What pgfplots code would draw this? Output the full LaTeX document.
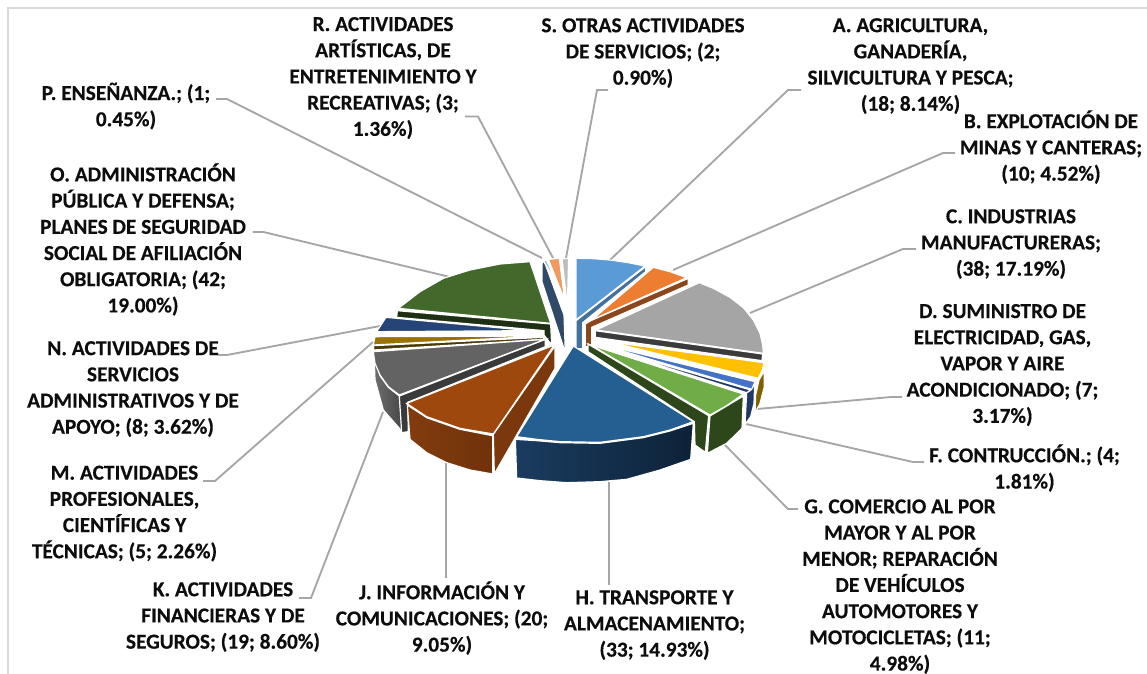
\documentclass[border=0pt]{standalone}
\usepackage{pgfplots}
\pgfplotsset{compat=1.18}
\usepackage{fontspec}
\setmainfont{Carlito}[BoldFeatures={FakeBold=0.35}]
\definecolor{lead}{HTML}{A6A6A6}
\pgfplotsset{
  pie/.style={x filter/.expression={360+x/3}, y filter/.expression={240+y/3}, draw=white, line width=0.9pt, forget plot, no markers},
  leader/.style={draw=lead, line width=1.4pt, forget plot, no markers}
}
\newcommand{\lab}[3]{\node[align=center,font=\fontsize{16}{19.65}\selectfont\bfseries,text=black!95,inner sep=0pt,yshift=-0.8pt] at (axis cs:#1,#2) {#3};}
\begin{document}
\begin{tikzpicture}
\useasboundingbox (0,0) rectangle (860.25pt,505.5pt);
\begin{axis}[at={(0,0)},anchor=south west,scale only axis,width=860.25pt,height=505.5pt,
  xmin=0,xmax=1147,ymin=0,ymax=674,y dir=reverse,hide axis,clip=false]
% frame
\addplot[draw=black!15,line width=1.5pt,forget plot,no markers] coordinates {(7.5,674) (7.5,8) (1147,8)};
% leaders
\addplot[leader] coordinates {(216,99) (227,99) (542,258)};
\addplot[leader] coordinates {(465,116.5) (478,116.5) (553,258)};
\addplot[leader] coordinates {(608,90) (597,90) (566,258)};
\addplot[leader] coordinates {(801,90) (788,90) (610,260)};
\addplot[leader] coordinates {(955,153) (943,153) (673,270)};
\addplot[leader] coordinates {(916,249) (903,249) (750,313)};
\addplot[leader] coordinates {(902,397) (891,397) (757,409)};
\addplot[leader] coordinates {(924,462) (913,462) (746,424)};
\addplot[leader] coordinates {(798,509) (788,509) (724,444)};
\addplot[leader] coordinates {(609,585) (609,482)};
\addplot[leader] coordinates {(446,578) (446,463)};
\addplot[leader] coordinates {(299,598) (311,598) (383,412)};
\addplot[leader] coordinates {(203,481) (215,481) (373,342)};
\addplot[leader] coordinates {(218,355) (227,355) (380,326)};
\addplot[leader] coordinates {(252.5,232) (263.5,232) (450,277)};
% back slices
\addplot[pie,fill={rgb,255:red,189;green,189;blue,189}] coordinates {(606,57) (626,55) (622,198)} --cycle;
\addplot[pie,fill={rgb,255:red,240;green,154;blue,94}] coordinates {(565,58) (598,55) (614,180)} --cycle;
% A
\addplot[pie,fill={rgb,255:red,65;green,113;blue,156}] coordinates {(648,242) (857,80) (857,95) (668,248) (668,326) (648,326)} --cycle;
\addplot[pie,fill={rgb,255:red,91;green,155;blue,213}] coordinates {(648,55) (700,56) (750,60) (805,68) (855,78) (648,240)} --cycle;
% B
\addplot[pie,fill={rgb,255:red,140;green,70;blue,28}] coordinates {(692,242) (985,115) (985,135) (695,262) (695,320) (676,320) (676,252)} --cycle;
\addplot[pie,fill={rgb,255:red,237;green,125;blue,49}] coordinates {(880,82) (930,95) (980,113) (695,240)} --cycle;
% C
\addplot[pie,fill={rgb,255:red,59;green,59;blue,59}] coordinates {(706,272) (1208,342) (1206,362) (706,292)} --cycle;
\addplot[pie,fill={rgb,255:red,165;green,165;blue,165}] coordinates {(1018,128) (1060,145) (1110,172) (1150,203) (1180,240) (1200,280) (1208,315) (1210,340) (708,270)} --cycle;
% D
\addplot[pie,fill={rgb,255:red,127;green,96;blue,0}] coordinates {(1213,392) (1197,420) (1187,465) (1185,520) (1200,490) (1213,440)} --cycle;
\addplot[pie,fill={rgb,255:red,255;green,192;blue,0}] coordinates {(745,305) (1212,368) (1207,390) (1195,415)} --cycle;
% F
\addplot[pie,fill={rgb,255:red,32;green,56;blue,100}] coordinates {(1184,432) (1182,490) (1172,530) (1155,553) (1160,458) (1172,450)} --cycle;
\addplot[pie,fill={rgb,255:red,32;green,56;blue,100}] coordinates {(695,312) (1172,450) (1160,458)} --cycle;
\addplot[pie,fill={rgb,255:red,68;green,114;blue,196}] coordinates {(700,307) (1185,425) (1175,448)} --cycle;
% G
\addplot[pie,fill={rgb,255:red,45;green,70;blue,26}] coordinates {(684,312) (1046,527) (1036,637) (1005,615) (1003,545) (684,335)} --cycle;
\addplot[pie,fill={rgb,255:red,45;green,70;blue,26}] coordinates {(1050,528) (1150,468) (1146,565) (1100,610) (1042,640)} --cycle;
\addplot[pie,fill={rgb,255:red,112;green,173;blue,71}] coordinates {(692,315) (1150,462) (1100,497) (1050,525)} --cycle;
% O
\addplot[pie,fill={rgb,255:red,30;green,48;blue,19}] coordinates {(572,252) (112,212) (110,232) (552,272) (552,285) (575,315)} --cycle;
\addplot[pie,fill={rgb,255:red,67;green,104;blue,43}] coordinates {(572,250) (510,65) (420,72) (330,90) (250,115) (180,155) (115,205)} --cycle;
% N
\addplot[pie,fill={rgb,255:red,38;green,68;blue,120}] coordinates {(510,272) (78,232) (50,275)} --cycle;
% M
\addplot[pie,fill={rgb,255:red,74;green,58;blue,0}] coordinates {(550,292) (40,317) (42,330) (552,298)} --cycle;
\addplot[pie,fill={rgb,255:red,153;green,115;blue,0}] coordinates {(550,288) (45,290) (40,315)} --cycle;
% K
\addplot[pie,left color={rgb,255:red,110;green,110;blue,110},right color={rgb,255:red,70;green,70;blue,70}] coordinates {(42,340) (45,420) (70,510) (127,575) (118,468) (85,442) (60,407)} --cycle;
\addplot[pie,fill={rgb,255:red,58;green,58;blue,58}] coordinates {(556,298) (118,468) (125,578) (145,575) (143,487) (556,320)} --cycle;
\addplot[pie,fill={rgb,255:red,99;green,99;blue,99}] coordinates {(555,298) (118,465) (85,440) (60,405) (45,370) (40,335)} --cycle;
% P
\addplot[pie,fill={rgb,255:red,46;green,74;blue,104}] coordinates {(546,70) (552,62) (612,225) (616,338) (546,125)} --cycle;
\addplot[pie,fill={rgb,255:red,157;green,195;blue,230}] coordinates {(550,62) (560,60) (590,130)} --cycle;
% J
\addplot[pie,fill={rgb,255:red,123;green,56;blue,12}] coordinates {(585,318) (400,583) (403,702) (585,385)} --cycle;
\addplot[pie,left color={rgb,255:red,130;green,60;blue,14},right color={rgb,255:red,112;green,50;blue,10}] coordinates {(142,495) (150,598) (200,638) (260,668) (330,690) (398,702) (398,587) (300,568) (200,533)} --cycle;
\addplot[pie,fill={rgb,255:red,158;green,72;blue,14}] coordinates {(583,315) (400,582) (300,565) (200,530) (140,490)} --cycle;
% H
\addplot[pie,left color={rgb,255:red,26;green,60;blue,96},right color={rgb,255:red,13;green,34;blue,56}] coordinates {(466,598) (470,714) (540,722) (620,728) (720,725) (800,718) (900,690) (992,658) (1000,550) (930,573) (850,593) (720,610) (600,608) (530,602)} --cycle;
\addplot[pie,fill={rgb,255:red,37;green,94;blue,145}] coordinates {(640,318) (1000,545) (930,570) (850,590) (720,607) (600,605) (530,598) (470,590)} --cycle;
% labels
\lab{383}{77}{R. ACTIVIDADES\\ARTÍSTICAS, DE\\ENTRETENIMIENTO Y\\RECREATIVAS; (3;\\1.36\%)}
\lab{643}{52}{S. OTRAS ACTIVIDADES\\DE SERVICIOS; (2;\\0.90\%)}
\lab{910.5}{65}{A. AGRICULTURA,\\GANADERÍA,\\SILVICULTURA Y PESCA;\\(18; 8.14\%)}
\lab{1051}{146}{B. EXPLOTACIÓN DE\\MINAS Y CANTERAS;\\(10; 4.52\%)}
\lab{1011}{243}{C. INDUSTRIAS\\MANUFACTURERAS;\\(38; 17.19\%)}
\lab{1002.5}{364}{D. SUMINISTRO DE\\ELECTRICIDAD, GAS,\\VAPOR Y AIRE\\ACONDICIONADO; (7;\\3.17\%)}
\lab{1024.5}{467}{F. CONTRUCCIÓN.; (4;\\1.81\%)}
\lab{900}{585.5}{G. COMERCIO AL POR\\MAYOR Y AL POR\\MENOR; REPARACIÓN\\DE VEHÍCULOS\\AUTOMOTORES Y\\MOTOCICLETAS; (11;\\4.98\%)}
\lab{654.5}{624}{H. TRANSPORTE Y\\ALMACENAMIENTO;\\(33; 14.93\%)}
\lab{442}{617}{J. INFORMACIÓN Y\\COMUNICACIONES; (20;\\9.05\%)}
\lab{223}{616}{K. ACTIVIDADES\\FINANCIERAS Y DE\\SEGUROS; (19; 8.60\%)}
\lab{124.5}{512.5}{M. ACTIVIDADES\\PROFESIONALES,\\CIENTÍFICAS Y\\TÉCNICAS; (5; 2.26\%)}
\lab{133}{388}{N. ACTIVIDADES DE\\SERVICIOS\\ADMINISTRATIVOS Y DE\\APOYO; (8; 3.62\%)}
\lab{143}{238.5}{O. ADMINISTRACIÓN\\PÚBLICA Y DEFENSA;\\PLANES DE SEGURIDAD\\SOCIAL DE AFILIACIÓN\\OBLIGATORIA; (42;\\19.00\%)}
\lab{126}{105}{P. ENSEÑANZA.; (1;\\0.45\%)}
\end{axis}
\end{tikzpicture}
\end{document}
